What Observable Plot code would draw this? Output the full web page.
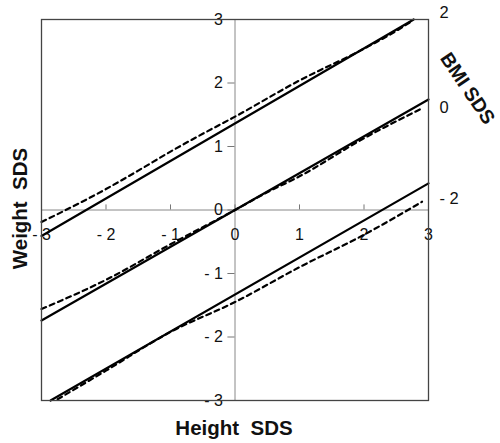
<!DOCTYPE html>
<html>
<head>
<meta charset="utf-8">
<script src="https://cdn.jsdelivr.net/npm/d3@7"></script>
<script src="https://cdn.jsdelivr.net/npm/@observablehq/plot@0.6"></script>
<style>
  body { margin: 0; background: #fff; }
  #chart svg { display: block; }
</style>
</head>
<body>
<div id="chart"></div>
<script>
// Tick values and labels
const xTicks = [-3, -2, -1, 0, 1, 2, 3];
const xTickLabels = ["- 3", "- 2", "- 1", "0", "1", "2", "3"];
const yTicks = [-3, -2, -1, 0, 1, 2, 3];
const yTickLabels = ["- 3", "- 2", "- 1", "0", "1", "2", "3"];

// BMI SDS labels on the right side (weight SDS where they sit)
const bmiLabels = ["2", "0", "- 2"];
const bmiLabelW = [3.11, 1.61, 0.18];

// Solid lines (height SDS, weight SDS)
const solidTopH = [-3, 2.77];
const solidTopW = [-0.41, 3.0];
const solidMidH = [-3, 3];
const solidMidW = [-1.74, 1.74];
const solidBotH = [-2.86, 3];
const solidBotW = [-3.0, 0.42];

// Dashed lines
const dashTopH = [-3, -2, -1.5, -1, -0.5, 0, 1, 2, 2.5, 2.75];
const dashTopW = [-0.19, 0.33, 0.62, 0.92, 1.2, 1.47, 2.04, 2.54, 2.82, 2.98];
const dashMidH = [-3, -2, -1, 0, 0.5, 1, 2, 2.9];
const dashMidW = [-1.56, -1.1, -0.54, 0.0, 0.28, 0.53, 1.13, 1.6];
const dashBotH = [-2.75, -2, -1, 0, 1, 2, 2.9];
const dashBotW = [-2.98, -2.53, -1.92, -1.45, -0.9, -0.39, 0.13];

const pts = (H, W) => H.map((h, i) => ({h, w: W[i]}));

const font = "'Liberation Sans', Arial, Helvetica, sans-serif";
const solidStyle = {x: "h", y: "w", stroke: "#000", strokeWidth: 2.2};
const dashStyle = {x: "h", y: "w", stroke: "#000", strokeWidth: 2.2, strokeDasharray: "5,4", curve: "monotone-x"};

const chart = Plot.plot({
  width: 500,
  height: 443,
  marginLeft: 41,
  marginRight: 72,
  marginTop: 19,
  marginBottom: 43,
  style: {fontFamily: font, background: "#fff"},
  x: {domain: [-3, 3], axis: null},
  y: {domain: [-3, 3], axis: null},
  marks: [
    // center axes
    Plot.ruleY([0], {stroke: "#888", strokeWidth: 1}),
    Plot.ruleX([0], {stroke: "#888", strokeWidth: 1}),
    // ticks
    Plot.ruleX(xTicks, {x: d => d, y1: 0, y2: 0.08, stroke: "#777", strokeWidth: 1}),
    Plot.ruleY(yTicks, {y: d => d, x1: -0.11, x2: 0.0, stroke: "#777", strokeWidth: 1}),
    // tick labels
    Plot.text(xTicks, {x: d => d, y: 0, text: (d, i) => xTickLabels[i], dy: 25, fontSize: 16, fill: "#111"}),
    Plot.text(yTicks, {x: 0, y: d => d, text: (d, i) => yTickLabels[i], dx: -12, textAnchor: "end", fontSize: 16, fill: "#111"}),
    // lines
    Plot.line(pts(solidTopH, solidTopW), solidStyle),
    Plot.line(pts(solidMidH, solidMidW), solidStyle),
    Plot.line(pts(solidBotH, solidBotW), solidStyle),
    Plot.line(pts(dashTopH, dashTopW), dashStyle),
    Plot.line(pts(dashMidH, dashMidW), dashStyle),
    Plot.line(pts(dashBotH, dashBotW), dashStyle),
    // frame
    Plot.frame({stroke: "#444", strokeWidth: 1.3}),
    // right BMI labels
    Plot.text(bmiLabelW, {x: 3, y: d => d, text: (d, i) => bmiLabels[i], dx: 11, textAnchor: "start", fontSize: 16.5, fill: "#111"}),
    // axis titles
    Plot.text(["Weight  SDS"], {frameAnchor: "left", dx: -21, dy: -1.5, rotate: -90, textAnchor: "middle", lineAnchor: "middle", fontSize: 20.5, fontWeight: "bold", fill: "#111"}),
    Plot.text(["Height  SDS"], {frameAnchor: "bottom", dx: -1, dy: 28, textAnchor: "middle", lineAnchor: "middle", fontSize: 20.5, fontWeight: "bold", fill: "#111"}),
    Plot.text(["BMI SDS"], {frameAnchor: "top-right", dx: 39, dy: 69, rotate: 56, textAnchor: "middle", lineAnchor: "middle", fontSize: 19.5, fontWeight: "bold", fill: "#111"})
  ]
});

document.getElementById("chart").appendChild(chart);
</script>
</body>
</html>
